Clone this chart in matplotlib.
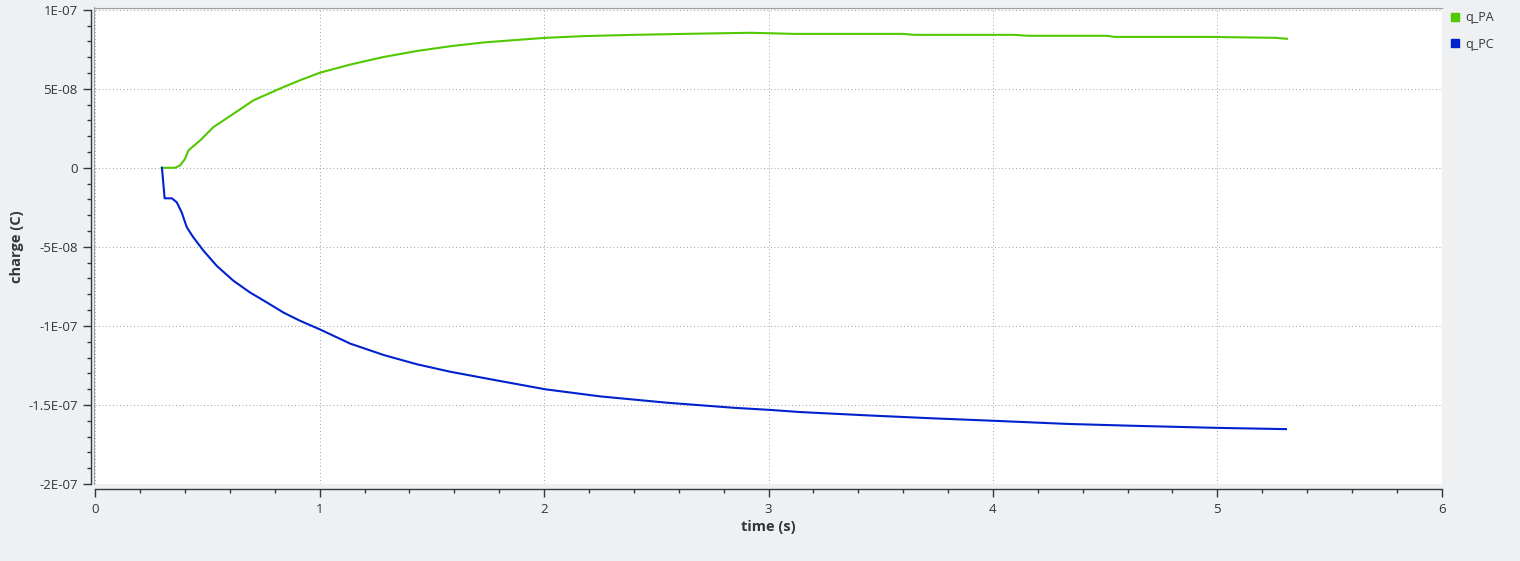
import matplotlib
matplotlib.use('Agg')
from matplotlib import pyplot as plt
from matplotlib.lines import Line2D
from matplotlib.ticker import MultipleLocator

# values
pa_t = [0.296, 0.355, 0.378, 0.40, 0.415, 0.467, 0.526, 0.616, 0.705, 0.839,
        0.913, 1.002, 1.136, 1.285, 1.434, 1.582, 1.731, 1.880, 2.006, 2.177,
        2.400, 2.623, 2.920, 3.113, 3.60, 3.65, 4.09, 4.16, 4.51, 4.54,
        4.96, 5.26, 5.31]
pa_q = [0.0, 0.0, 0.15e-8, 0.57e-8, 1.1e-8, 1.73e-8, 2.57e-8, 3.42e-8, 4.27e-8, 5.11e-8,
        5.54e-8, 6.02e-8, 6.53e-8, 7.01e-8, 7.39e-8, 7.69e-8, 7.93e-8, 8.09e-8, 8.22e-8, 8.33e-8,
        8.41e-8, 8.47e-8, 8.54e-8, 8.47e-8, 8.47e-8, 8.41e-8, 8.41e-8, 8.35e-8, 8.35e-8, 8.28e-8,
        8.28e-8, 8.22e-8, 8.16e-8]

pc_t = [0.297, 0.309, 0.341, 0.363, 0.385, 0.408, 0.437, 0.482, 0.541, 0.616,
        0.690, 0.765, 0.839, 0.913, 0.999, 1.136, 1.285, 1.434, 1.582, 1.805,
        2.006, 2.251, 2.549, 2.846, 3.002, 3.143, 3.441, 3.738, 4.001, 4.333,
        4.630, 5.002, 5.306]
pc_q = [0.0, -1.93e-8, -1.93e-8, -2.18e-8, -2.82e-8, -3.77e-8, -4.40e-8, -5.24e-8, -6.20e-8, -7.15e-8,
        -7.89e-8, -8.52e-8, -9.16e-8, -9.68e-8, -1.021e-7, -1.112e-7, -1.184e-7, -1.243e-7, -1.290e-7, -1.349e-7,
        -1.401e-7, -1.446e-7, -1.486e-7, -1.518e-7, -1.531e-7, -1.545e-7, -1.566e-7, -1.585e-7, -1.600e-7, -1.620e-7,
        -1.632e-7, -1.645e-7, -1.653e-7]

series_names = ['q_PA', 'q_PC']
y_ticks = [1e-7, 5e-8, 0, -5e-8, -1e-7, -1.5e-7, -2e-7]
y_tick_labels = ['1E-07', '5E-08', '0', '-5E-08', '-1E-07', '-1.5E-07', '-2E-07']
x_ticks = [0, 1, 2, 3, 4, 5, 6]

GREEN = '#52c800'
BLUE = '#0022cc'
DARK = '#31363b'
BG = '#eff0f1'

plt.rcParams['font.family'] = ['Open Sans', 'Noto Sans', 'DejaVu Sans']

fig = plt.figure(figsize=(15.2, 5.61), dpi=100, facecolor=BG)
ax = fig.add_axes([95.3 / 1520, 77 / 561, (1441.7 - 95.3) / 1520, (484 - 9.7) / 561])
ax.set_facecolor('white')

ax.plot(pa_t, pa_q, color=GREEN, lw=1.5, label=series_names[0])
ax.plot(pc_t, pc_q, color=BLUE, lw=1.5, label=series_names[1])

ax.set_xlim(0, 6)
ax.set_ylim(-2e-7, 1e-7)
ax.set_xticks(x_ticks)
ax.set_xticklabels([str(v) for v in x_ticks])
ax.set_yticks(y_ticks)
ax.set_yticklabels(y_tick_labels)
ax.xaxis.set_minor_locator(MultipleLocator(0.2))
ax.yaxis.set_minor_locator(MultipleLocator(1e-8))

ax.grid(True, which='major', color='#a8a8a8', lw=0.72, linestyle=(0, (1, 2.5)))

ax.spines['right'].set_visible(False)
ax.spines['top'].set_color('#a0a0a0')
ax.spines['top'].set_linewidth(0.8)
ax.spines['top'].set_position(('outward', 1.5))
ax.spines['left'].set_position(('outward', 3.3))
ax.spines['left'].set_color(DARK)
ax.spines['left'].set_linewidth(1.0)
ax.spines['bottom'].set_position(('outward', 3.6))
ax.spines['bottom'].set_color(DARK)
ax.spines['bottom'].set_linewidth(1.0)

# thin gray frame line on the left of the plot area
fig.add_artist(Line2D([93.7 / 1520, 93.7 / 1520], [77 / 561, (561 - 7.3) / 561],
                      color='#a0a0a0', lw=0.8, transform=fig.transFigure))

ax.tick_params(which='major', length=5.8, width=1.0, color=DARK, labelsize=9.5,
               labelcolor=DARK, direction='out')
ax.tick_params(which='minor', length=3.2, width=1.0, color=DARK, direction='out')
ax.tick_params(axis='y', which='both', pad=3.5)
ax.tick_params(axis='x', which='both', pad=4)
ax.tick_params(top=False, right=False)

ax.set_xlabel('time (s)', fontsize=10.5, fontweight='bold', color=DARK, labelpad=3)
ax.set_ylabel('charge (C)', fontsize=10.5, fontweight='bold', color=DARK, labelpad=3)

handles = [Line2D([], [], marker='s', linestyle='none', color=GREEN, markersize=6),
           Line2D([], [], marker='s', linestyle='none', color=BLUE, markersize=6)]
fig.legend(handles, series_names, loc='upper left', bbox_to_anchor=(1444 / 1520, 1 - 6 / 561),
           frameon=False, fontsize=9, labelcolor=DARK, handlelength=1.0,
           handletextpad=0.3, labelspacing=1.1, borderaxespad=0)

fig.savefig('out.png', dpi=100, facecolor=BG)
